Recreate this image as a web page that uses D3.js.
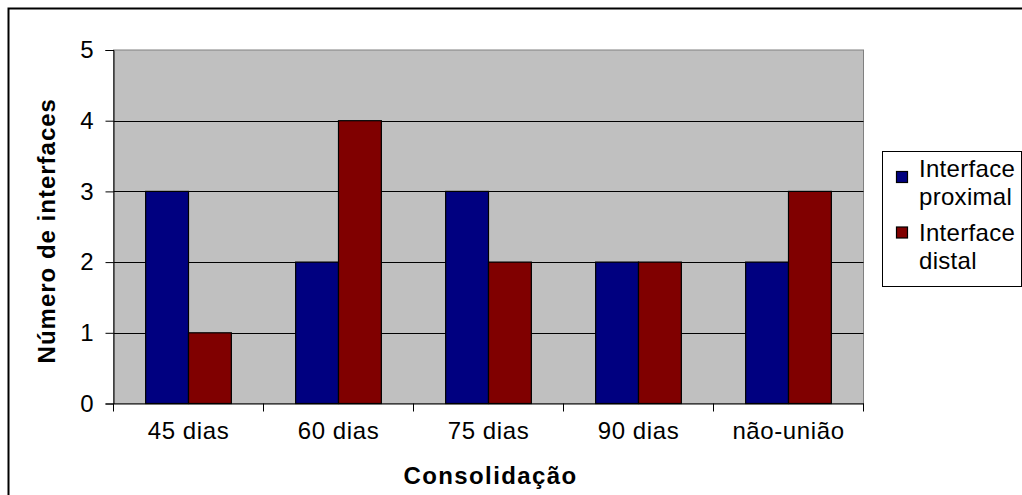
<!DOCTYPE html>
<html>
<head>
<meta charset="utf-8">
<script src="https://cdn.jsdelivr.net/npm/d3@7"></script>
<style>
  html, body { margin: 0; padding: 0; background: #fff; }
  svg { display: block; }
  text { font-family: "Liberation Sans", Arial, sans-serif; fill: #000; }
</style>
</head>
<body>
<svg id="chart" width="1022" height="495"></svg>
<script>
// Consolidation period of each interface
const categories = ["45 dias", "60 dias", "75 dias", "90 dias", "não-união"];
const seriesNames = ["Interface proximal", "Interface distal"];
const proximal = [3, 2, 3, 2, 2];
const distal = [1, 4, 2, 2, 3];
const yTicks = [0, 1, 2, 3, 4, 5];
const colors = ["#000080", "#800000"];
const legendLines = [["Interface", "proximal"], ["Interface", "distal"]];

const svg = d3.select("#chart");

// outer frame
svg.append("rect")
  .attr("x", 8.5).attr("y", 8.5)
  .attr("width", 1040).attr("height", 510)
  .attr("fill", "#fff").attr("stroke", "#000").attr("stroke-width", 2);

const plot = { left: 113.5, right: 863.5, top: 50, bottom: 403.5 };

const x = d3.scaleBand().domain(categories).range([plot.left, plot.right]).paddingInner(0).paddingOuter(0);
const xs = d3.scaleBand().domain(seriesNames).range([0, x.bandwidth()]).paddingInner(0).paddingOuter(0.75);
const y = d3.scaleLinear().domain([0, 5]).range([plot.bottom, plot.top]);

// plot area
svg.append("rect")
  .attr("x", plot.left).attr("y", plot.top)
  .attr("width", plot.right - plot.left).attr("height", plot.bottom - plot.top)
  .attr("fill", "#c0c0c0").attr("stroke", "#808080").attr("stroke-width", 1);

// gridlines
svg.append("g").selectAll("line")
  .data(yTicks.filter(t => t > 0 && t < 5))
  .join("line")
  .attr("x1", plot.left).attr("x2", plot.right)
  .attr("y1", d => Math.round(y(d)) + 0.5).attr("y2", d => Math.round(y(d)) + 0.5)
  .attr("stroke", "#000").attr("stroke-width", 1);

// bars
const rows = categories.map((c, i) => ({ cat: c, values: [proximal[i], distal[i]] }));
const groups = svg.append("g").selectAll("g")
  .data(rows).join("g")
  .attr("transform", d => `translate(${x(d.cat)},0)`);
groups.selectAll("rect")
  .data(d => d.values.map((v, j) => ({ name: seriesNames[j], v, j })))
  .join("rect")
  .attr("x", d => xs(d.name))
  .attr("width", xs.bandwidth())
  .attr("y", d => y(d.v))
  .attr("height", d => y(0) - y(d.v))
  .attr("fill", d => colors[d.j])
  .attr("stroke", "#000").attr("stroke-width", 1.2);

// y axis
const yAxis = d3.axisLeft(y).tickValues(yTicks).tickSize(8).tickPadding(12).tickFormat(d3.format("d"));
const gy = svg.append("g").attr("transform", `translate(${plot.left},0)`).call(yAxis);
gy.select(".domain").attr("stroke", "#000");
gy.selectAll(".tick line").attr("stroke", "#000");
gy.selectAll(".tick text").attr("font-size", 24).attr("font-family", "Liberation Sans, Arial, sans-serif").attr("fill", "#000");

// x axis: ticks between categories
const xAxis = d3.axisBottom(x).tickSize(0).tickPadding(18);
const gx = svg.append("g").attr("transform", `translate(0,${plot.bottom})`).call(xAxis);
gx.select(".domain").attr("stroke", "#000");
gx.selectAll(".tick text").attr("font-size", 24).attr("font-family", "Liberation Sans, Arial, sans-serif")
  .attr("fill", "#000").attr("letter-spacing", "0.6px").attr("dy", "0.71em");
const boundaries = categories.map(c => x(c)).concat([plot.right]);
gx.selectAll(".sep").data(boundaries).join("line")
  .attr("class", "sep")
  .attr("x1", d => d).attr("x2", d => d)
  .attr("y1", 0).attr("y2", 8)
  .attr("stroke", "#000");

// axis titles
svg.append("text")
  .attr("x", (plot.left + plot.right) / 2 + 2).attr("y", 484)
  .attr("text-anchor", "middle")
  .attr("font-size", 24).attr("font-weight", "bold").attr("letter-spacing", "1.4px")
  .text("Consolidação");

svg.append("text")
  .attr("transform", `translate(55,${(plot.top + plot.bottom) / 2 + 4}) rotate(-90)`)
  .attr("text-anchor", "middle")
  .attr("font-size", 24).attr("font-weight", "bold").attr("letter-spacing", "1px")
  .text("Número de interfaces");

// legend
const lg = svg.append("g");
lg.append("rect")
  .attr("x", 882.5).attr("y", 151.5).attr("width", 139).attr("height", 135)
  .attr("fill", "#fff").attr("stroke", "#000").attr("stroke-width", 1);
const entryY = [177, 241];
const keyY = [171.5, 227];
legendLines.forEach((lines, i) => {
  lg.append("rect")
    .attr("x", 896.5).attr("y", keyY[i])
    .attr("width", 11).attr("height", 11)
    .attr("fill", colors[i]).attr("stroke", "#000").attr("stroke-width", 1.2);
  lines.forEach((t, k) => {
    lg.append("text")
      .attr("x", 919).attr("y", entryY[i] + k * 27.5)
      .attr("font-size", 24).attr("letter-spacing", "0.3px")
      .text(t);
  });
});
</script>
</body>
</html>
